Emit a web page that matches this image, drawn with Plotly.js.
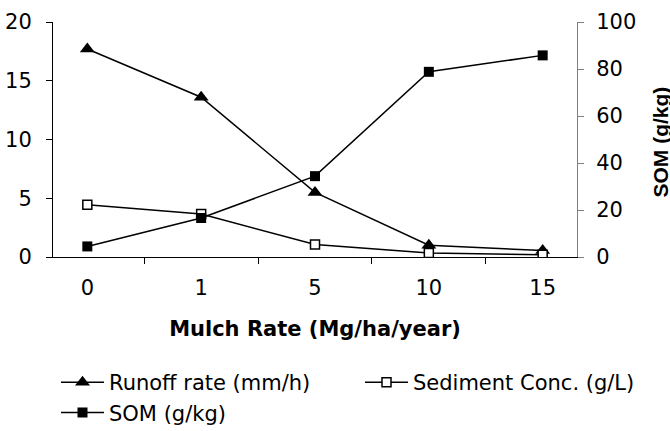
<!DOCTYPE html>
<html>
<head>
<meta charset="utf-8">
<script src="https://cdn.plot.ly/plotly-3.0.1.min.js"></script>
<style>html,body{margin:0;padding:0;background:#fff;}#chart{width:670px;height:431px;}</style>
</head>
<body>
<div id="chart"></div>
<script>
var mulchRates = ['0', '1', '5', '10', '15'];
var runoffRate = [17.7, 13.6, 5.5, 1.0, 0.55];
var sedimentConc = [4.45, 3.65, 1.07, 0.33, 0.2];
var somValues = [4.5, 16.6, 34.4, 78.8, 85.8];
var leftTicks = [0, 5, 10, 15, 20];
var rightTicks = [0, 20, 40, 60, 80, 100];

var FONT = '"DejaVu Sans", Arial, sans-serif';
var TITLEFONT = 'Arial, "Liberation Sans", sans-serif';
var FS = 21;

var traces = [
  {
    x: mulchRates, y: runoffRate, name: 'Runoff rate (mm/h)', type: 'scatter', mode: 'lines+markers',
    line: {color: '#000', width: 1.5},
    marker: {symbol: 'triangle-up', size: 13, color: '#000'},
    yaxis: 'y', legend: 'legend', legendrank: 1
  },
  {
    x: mulchRates, y: sedimentConc, name: 'Sediment Conc. (g/L)', type: 'scatter', mode: 'lines+markers',
    line: {color: '#000', width: 1.5},
    marker: {symbol: 'square', size: 9, color: '#fff', line: {color: '#000', width: 1.5}},
    yaxis: 'y', legend: 'legend2', legendrank: 2
  },
  {
    x: mulchRates, y: somValues, name: 'SOM (g/kg)', type: 'scatter', mode: 'lines+markers',
    line: {color: '#000', width: 1.5},
    marker: {symbol: 'square', size: 10, color: '#000'},
    yaxis: 'y2', legend: 'legend', legendrank: 3
  }
];

var legendBase = {
  orientation: 'v', xref: 'container', yref: 'container',
  xanchor: 'left', y: 0.16, yanchor: 'top', itemwidth: 43,
  font: {family: FONT, size: FS, color: '#000'},
  tracegroupgap: 0, bgcolor: 'rgba(0,0,0,0)'
};

var layout = {
  width: 670, height: 431,
  paper_bgcolor: '#fff', plot_bgcolor: '#fff',
  font: {family: FONT, size: FS, color: '#000'},
  margin: {l: 52.5, r: 92.5, t: 22, b: 174, pad: 0, autoexpand: false},
  showlegend: true,
  legend: Object.assign({}, legendBase, {x: 56 / 670}),
  legend2: Object.assign({}, legendBase, {x: 360 / 670}),
  xaxis: {
    type: 'category', categoryorder: 'array', categoryarray: mulchRates,
    showline: true, linecolor: '#000', linewidth: 1,
    ticks: 'outside', tickson: 'boundaries', ticklen: 6, tickcolor: '#000', tickwidth: 1,
    showgrid: false, zeroline: false, tickangle: 0,
    tickfont: {family: FONT, size: FS},
    ticklabelstandoff: 12,
    title: {text: '<b>Mulch Rate (Mg/ha/year)</b>', font: {family: FONT, size: FS}, standoff: 22}
  },
  yaxis: {
    range: [0, 20], tickvals: leftTicks, ticktext: leftTicks.map(String),
    showline: true, linecolor: '#000', linewidth: 1,
    ticks: 'outside', ticklen: 6, tickcolor: '#000', tickwidth: 1,
    showgrid: false, zeroline: false,
    tickfont: {family: FONT, size: FS},
    ticklabelstandoff: 10
  },
  yaxis2: {
    range: [0, 100], tickvals: rightTicks, ticktext: rightTicks.map(String),
    overlaying: 'y', side: 'right',
    showline: true, linecolor: '#808080', linewidth: 1,
    ticks: 'outside', ticklen: 6, tickcolor: '#808080', tickwidth: 1,
    showgrid: false, zeroline: false,
    tickfont: {family: FONT, size: FS},
    ticklabelstandoff: 8
  },
  yaxis3: {
    range: [0, 100], tickvals: rightTicks, overlaying: 'y', side: 'right',
    showline: false, ticks: 'inside', ticklen: 6, tickcolor: '#808080', tickwidth: 1,
    showticklabels: false, showgrid: false, zeroline: false
  },
  annotations: [
    {
      text: '<b>SOM (g/kg)</b>', textangle: -90, showarrow: false,
      xref: 'paper', yref: 'paper', x: 1, y: 0.5, xanchor: 'center', yanchor: 'middle',
      xshift: 83, yshift: -3,
      font: {family: TITLEFONT, size: FS, color: '#000'}
    }
  ]
};

Plotly.newPlot('chart', traces, layout, {displayModeBar: false, staticPlot: true});
</script>
</body>
</html>
